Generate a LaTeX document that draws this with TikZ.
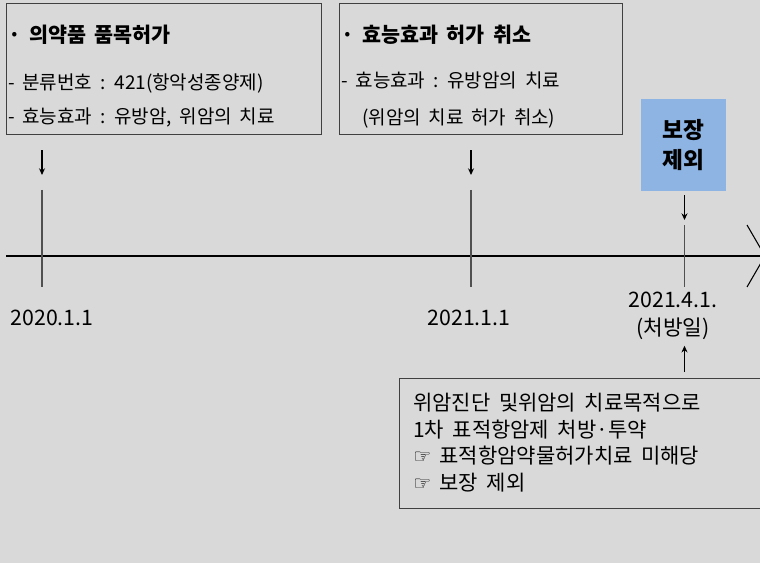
\documentclass[tikz,border=0pt]{standalone}
\usepackage{fontspec}
\setmainfont{Noto Sans CJK KR}[WordSpace=1.8]
\newfontfamily\datefont{Noto Sans CJK KR}
\newfontfamily\handfont{DejaVu Sans}
\usepackage{xcolor}
\usetikzlibrary{arrows.meta, positioning}
\definecolor{canvasGray}{RGB}{217,217,217}
\definecolor{edgeGray}{RGB}{64,64,64}
\definecolor{tickGray}{RGB}{80,80,80}
\definecolor{coverBlue}{RGB}{141,180,226}
\definecolor{darkText}{RGB}{0,0,0}
\newcommand{\boxtitle}[1]{{\fontsize{15.5}{18}\selectfont\bfseries #1}}
\newcommand{\hand}{{\handfont\fontsize{15}{15}\selectfont ☞}}
\tikzset{
    infobox/.style={
        rectangle,
        draw=edgeGray,
        line width=0.9pt,
        inner sep=0pt,
        anchor=north west
    },
    boxtext/.style={
        align=left,
        inner sep=0pt,
        text=darkText,
        font=\fontsize{14.25}{25.5}\selectfont
    },
    notetext/.style={
        align=left,
        inner sep=0pt,
        text=darkText,
        font=\fontsize{15.75}{20}\selectfont
    },
    coverbox/.style={
        rectangle,
        fill=coverBlue,
        align=center,
        minimum width=63.75pt,
        minimum height=69pt,
        font=\fontsize{17}{22.5}\selectfont\bfseries
    },
    datelabel/.style={align=center, inner sep=2pt, font=\datefont\fontsize{16}{21}\selectfont},
    downarrow/.style={-{Stealth[length=5pt, width=4.5pt]}, line width=0.8pt, draw=darkText},
    tickline/.style={line width=0.8pt, draw=tickGray},
    axisline/.style={line width=0.8pt, draw=darkText}
}
\begin{document}
\begin{tikzpicture}[x=0.75pt, y=-0.75pt]
    \useasboundingbox (0,0) rectangle (760,563);
    \clip (0,0) rectangle (760,563);
    \fill[canvasGray] (0,0) rectangle (760,563);
    \node[infobox, minimum width=236.25pt, minimum height=98.25pt] (permit) at (6,3) {};
    \node[boxtext, anchor=north west, below right=16pt and 1.5pt of permit.north west] (permittext) {\boxtitle{·\ 의약품 품목허가}\\[9.75pt]
        - 분류번호 : 421(항악성종양제)\\
        - 효능효과 : 유방암, 위암의 치료};
    \node[infobox, minimum width=212.25pt, minimum height=98.25pt] (cancel) at (339,3) {};
    \node[boxtext, anchor=north west, below right=16pt and 1.5pt of cancel.north west] (canceltext) {\boxtitle{·\ 효능효과 허가 취소}\\[8.25pt]
        - 효능효과 : 유방암의 치료\\[2.25pt]
        \hspace*{15.75pt}(위암의 치료 허가 취소)};
    \node[coverbox] (excluded) at (683.5,145) {보장\\제외};
    \node[infobox, minimum width=300.75pt, minimum height=97.5pt] (rxnote) at (399,378) {};
    \node[notetext, anchor=north west, below right=11.25pt and 10.5pt of rxnote.north west] (rxnotetext) {위암진단 및위암의 치료목적으로\\
        1차 표적항암제 처방·투약\\
        \hand\ 표적항암약물허가치료 미해당\\
        \hand\ 보장 제외};
    \coordinate (t1top) at (42,190);
    \coordinate (t1bot) at (42,287);
    \coordinate (t2top) at (471,190);
    \coordinate (t2bot) at (471,287);
    \coordinate (t3top) at (684.5,225);
    \coordinate (t3bot) at (684.5,287);
    \coordinate (axisstart) at (6,256);
    \coordinate (axisend) at (765,256);
    \draw[axisline] (axisstart) -- (axisend);
    \draw[axisline] (747,225) -- (axisend) -- (747,287);
    \draw[tickline] (t1top) -- (t1bot);
    \draw[tickline] (t2top) -- (t2bot);
    \draw[tickline] (t3top) -- (t3bot);
    \node[datelabel] (d2020) at (52,318) {2020.1.1};
    \node[datelabel] (d2021) at (469,318) {2021.1.1};
    \node[datelabel] (rxday) at (673,316) {2021.4.1.\\(처방일)};
    \draw[downarrow, shorten <=11.25pt, shorten >=11.25pt] (permit.south -| t1top) -- (t1top);
    \draw[downarrow, shorten <=11.25pt, shorten >=11.25pt] (cancel.south -| t2top) -- (t2top);
    \draw[downarrow, shorten <=3pt, shorten >=3.75pt] (excluded.south -| t3top) -- (t3top);
    \draw[downarrow, shorten <=4.5pt, shorten >=2.25pt] (rxnote.north -| t3bot) -- (rxday.south -| t3bot);
\end{tikzpicture}
\end{document}
